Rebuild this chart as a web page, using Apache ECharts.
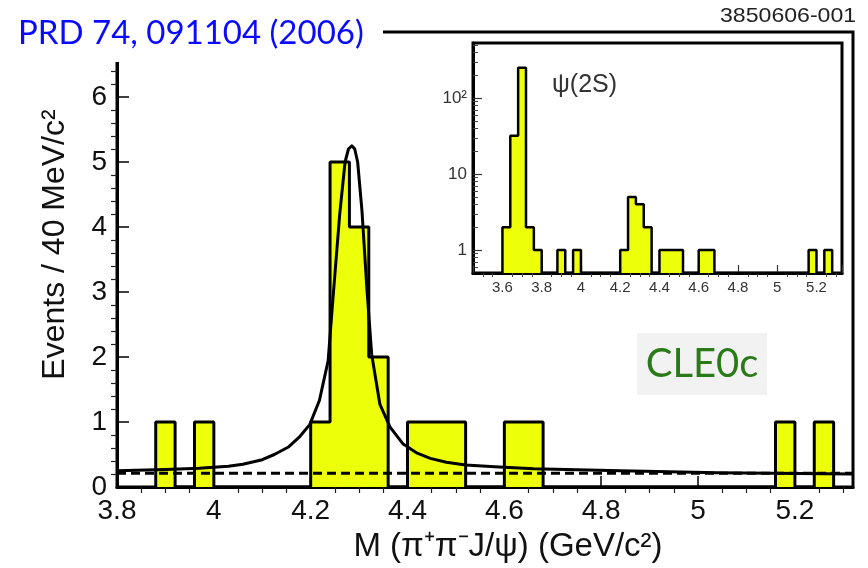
<!DOCTYPE html>
<html><head><meta charset="utf-8">
<script src="https://cdn.jsdelivr.net/npm/echarts@6/dist/echarts.min.js"></script>
<style>html,body{margin:0;padding:0;background:#fff}#c{width:868px;height:568px}</style>
</head><body><div id="c"></div>
<script>
// Histogram bins (40 MeV wide): lower edges and event counts (full range, shown in inset)
const binLow   = [3.60, 3.64, 3.68, 3.72, 3.76, 3.88, 3.96, 4.20, 4.24, 4.28, 4.32, 4.40, 4.44, 4.48, 4.60, 4.64, 5.16, 5.24];
const binCount = [2,    32,   250,  2,    1,    1,    1,    1,    5,    4,    2,    1,    1,    1,    1,    1,    1,    1];
const binWidth = 0.04;

// Fit curve (signal + background)
const fitX = [3.80, 3.90, 3.97, 4.03, 4.06, 4.10, 4.125, 4.155, 4.178, 4.198, 4.218, 4.236, 4.246, 4.260, 4.271, 4.278, 4.285, 4.291, 4.297, 4.306, 4.316, 4.326, 4.343, 4.364, 4.391, 4.42, 4.447, 4.48, 4.52, 4.58, 4.66, 4.75, 4.84, 5.04, 5.32];
const fitY = [0.25, 0.27, 0.29, 0.32, 0.35, 0.42, 0.50, 0.62, 0.78, 0.96, 1.33, 1.94, 2.90, 4.20, 5.00, 5.20, 5.25, 5.20, 5.00, 4.24, 3.06, 2.04, 1.27, 0.92, 0.66, 0.52, 0.44, 0.38, 0.34, 0.31, 0.28, 0.265, 0.25, 0.22, 0.20];

// Background (dashed)
const bgX = [3.80, 5.32];
const bgY = [0.21, 0.21];

// Tick labels / tick positions
const mainXTicks  = [3.8, 4.0, 4.2, 4.4, 4.6, 4.8, 5.0, 5.2];
const mainYTicks  = [0, 1, 2, 3, 4, 5, 6];
const insetXTicks = [3.6, 3.8, 4.0, 4.2, 4.4, 4.6, 4.8, 5.0, 5.2];
const insetYTicks = [1, 10, 100];
const insetYLabels = ['1', '10', '10\u00B2'];
const insetYMinorTicks = [0.6, 0.7, 0.8, 0.9, 2, 3, 4, 5, 6, 7, 8, 9, 20, 30, 40, 50, 60, 70, 80, 90, 200, 300, 400, 500];

const insetYMin = 0.5, insetYMax = 530;

function histPath(lowCut, floor) {
  const pts = [];
  let prevHi = null;
  for (let i = 0; i < binLow.length; i++) {
    const lo = binLow[i];
    if (lo < lowCut - 1e-9) continue;
    const hi = +(lo + binWidth).toFixed(4);
    const c = Math.max(binCount[i], floor);
    if (prevHi === null || Math.abs(lo - prevHi) > 1e-6) {
      if (prevHi !== null) pts.push([prevHi, floor]);
      pts.push([lo, floor]);
    }
    pts.push([lo, c]);
    pts.push([hi, c]);
    prevHi = hi;
  }
  pts.push([prevHi, floor]);
  return pts;
}
function labelIn(list) {
  return function (v) { return list.some(t => Math.abs(t - v) < 1e-6) ? String(+v.toFixed(2)) : ''; };
}

const FONT = 'Liberation Sans';
const YELLOW = '#eeff0a';

const chart = echarts.init(document.getElementById('c'), null, {renderer: 'canvas'});
chart.setOption({
  animation: false,
  backgroundColor: '#ffffff',
  textStyle: {fontFamily: FONT},
  grid: [
    {left: 117, top: 32, right: 15, bottom: 78, show: true, borderColor: '#000', borderWidth: 3, backgroundColor: 'transparent'},
    {left: 473, top: 43, width: 369, height: 230, show: true, borderColor: '#000', borderWidth: 3, backgroundColor: '#fff'}
  ],
  xAxis: [
    {
      type: 'value', gridIndex: 0, min: 3.8, max: 5.32, interval: 0.2,
      name: 'M (\u03C0\u207A\u03C0\u207BJ/\u03C8) (GeV/c\u00B2)', nameLocation: 'middle', nameGap: 43,
      nameTextStyle: {fontSize: 33, color: '#111', fontFamily: FONT, padding: [0, 0, 0, 46]},
      axisLine: {show: true, lineStyle: {color: '#000', width: 3}},
      axisTick: {show: true, inside: true, length: 11, lineStyle: {color: '#000', width: 1.5}},
      minorTick: {show: true, splitNumber: 4, length: -6, lineStyle: {color: '#222', width: 1.2}},
      axisLabel: {fontSize: 28, color: '#111', margin: 10, showMaxLabel: false, formatter: labelIn(mainXTicks)},
      splitLine: {show: false}
    },
    {
      type: 'value', gridIndex: 1, min: 3.45, max: 5.33, splitNumber: 9,
      axisLine: {show: true, lineStyle: {color: '#000', width: 3}},
      axisTick: {show: true, inside: true, length: 8, lineStyle: {color: '#333', width: 1.2}},
      minorTick: {show: true, splitNumber: 4, length: -4, lineStyle: {color: '#444', width: 1}},
      axisLabel: {fontSize: 15, color: '#333', margin: 7, showMinLabel: false, showMaxLabel: false, formatter: labelIn(insetXTicks)},
      splitLine: {show: false}
    }
  ],
  yAxis: [
    {
      type: 'value', gridIndex: 0, min: 0, max: 7, interval: 1,
      name: 'Events / 40 MeV/c\u00B2', nameLocation: 'middle', nameGap: 46,
      nameTextStyle: {fontSize: 32, color: '#111', fontFamily: FONT, padding: [0, 0, 0, 30]},
      axisLine: {show: true, lineStyle: {color: '#000', width: 3}},
      axisTick: {show: true, inside: true, length: 12, lineStyle: {color: '#000', width: 1.5}},
      minorTick: {show: true, splitNumber: 5, length: -6, lineStyle: {color: '#222', width: 1.2}},
      axisLabel: {fontSize: 28, color: '#111', margin: 10, showMaxLabel: false, formatter: labelIn(mainYTicks)},
      splitLine: {show: false}
    },
    {
      type: 'log', logBase: 10, gridIndex: 1, min: insetYMin, max: insetYMax, position: 'left',
      axisLine: {show: true, lineStyle: {color: '#000', width: 3}},
      axisTick: {show: true, customValues: insetYTicks, inside: true, length: 9, lineStyle: {color: '#333', width: 1.2}},
      axisLabel: {customValues: insetYTicks, fontSize: 17, color: '#333', margin: 6,
        formatter: function (v) { const i = insetYTicks.indexOf(Math.round(v)); return i >= 0 ? insetYLabels[i] : ''; }},
      splitLine: {show: false}
    },
    {
      type: 'log', logBase: 10, gridIndex: 1, min: insetYMin, max: insetYMax, position: 'left',
      axisLine: {show: false},
      axisTick: {show: true, customValues: insetYMinorTicks, inside: true, length: 5, lineStyle: {color: '#444', width: 1}},
      axisLabel: {show: false},
      splitLine: {show: false}
    }
  ],
  series: [
    {
      name: 'Data', type: 'line', xAxisIndex: 0, yAxisIndex: 0,
      data: histPath(3.8, 0), symbol: 'none', smooth: false,
      lineStyle: {color: '#000', width: 3}, areaStyle: {color: YELLOW, opacity: 1, origin: 'start'}, z: 2
    },
    {
      name: 'Background', type: 'line', xAxisIndex: 0, yAxisIndex: 0,
      data: bgX.map((x, i) => [x, bgY[i]]), symbol: 'none',
      lineStyle: {color: '#000', width: 3, type: [9, 5]}, z: 3
    },
    {
      name: 'Fit', type: 'line', xAxisIndex: 0, yAxisIndex: 0,
      data: fitX.map((x, i) => [x, fitY[i]]), symbol: 'none', smooth: false,
      lineStyle: {color: '#000', width: 3, join: 'round'}, z: 4
    },
    {
      name: 'Inset', type: 'line', xAxisIndex: 1, yAxisIndex: 1,
      data: histPath(-Infinity, insetYMin), symbol: 'none', smooth: false,
      lineStyle: {color: '#000', width: 2.5}, areaStyle: {color: YELLOW, opacity: 1, origin: 'start'}, z: 5
    }
  ],
  graphic: [
    {type: 'rect', z: 100, shape: {x: 0, y: 0, width: 383, height: 62}, style: {fill: '#fff'}},
    {type: 'text', z: 101, x: 18, y: 33, style: {text: 'PRD 74, 091104 (2006)', font: '33px Lato', fill: '#0a0aff', align: 'left', verticalAlign: 'middle'}},
    {type: 'text', z: 101, x: 720, y: 16, scaleX: 1.1, style: {text: '3850606-001', font: '21px "Liberation Sans"', fill: '#222', align: 'left', verticalAlign: 'middle'}},
    {type: 'rect', z: 50, shape: {x: 637, y: 333, width: 130, height: 62}, style: {fill: '#f2f2f2'}},
    {type: 'text', z: 51, x: 702, y: 364, style: {text: 'CLE0c', font: '40px Lato', fill: '#2a7a19', align: 'center', verticalAlign: 'middle'}},
    {type: 'text', z: 51, x: 552, y: 85, style: {text: '\u03C8(2S)', font: '25px "Liberation Sans"', fill: '#333', align: 'left', verticalAlign: 'middle'}}
  ]
});
</script>
</body></html>
